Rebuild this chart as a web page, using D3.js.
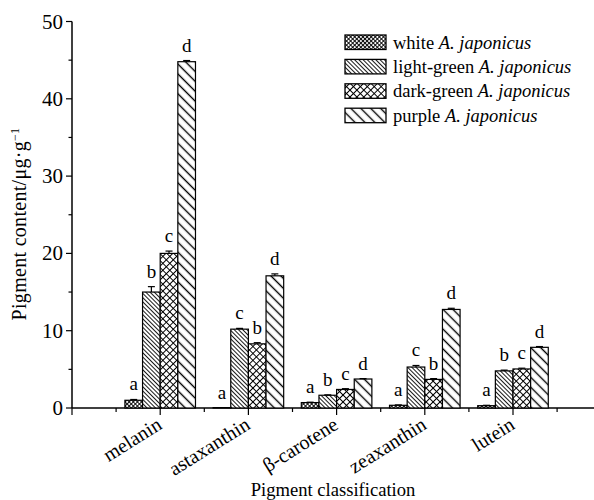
<!DOCTYPE html>
<html><head><meta charset="utf-8">
<script src="https://cdn.jsdelivr.net/npm/d3@7"></script>
<style>body{margin:0;background:#fff}</style>
</head><body>
<svg id="c" width="594" height="500"></svg>
<script>
const categories = ["melanin","astaxanthin","β-carotene","zeaxanthin","lutein"];
const series = ["white","light-green","dark-green","purple"];
const whiteVals = [1.0, 0.05, 0.7, 0.35, 0.3];
const lightGreenVals = [15.0, 10.2, 1.65, 5.3, 4.8];
const darkGreenVals = [20.0, 8.3, 2.4, 3.7, 5.05];
const purpleVals = [44.8, 17.1, 3.75, 12.75, 7.85];
const whiteErr = [0.1, 0.0, 0.05, 0.05, 0.05];
const lightGreenErr = [0.7, 0.1, 0.05, 0.2, 0.1];
const darkGreenErr = [0.3, 0.15, 0.1, 0.1, 0.1];
const purpleErr = [0.15, 0.25, 0.05, 0.15, 0.1];
const whiteSig = ["a","a","a","a","a"];
const lightGreenSig = ["b","c","b","c","b"];
const darkGreenSig = ["c","b","c","b","c"];
const purpleSig = ["d","d","d","d","d"];
const yTicks = [0,10,20,30,40,50];

const vals = [whiteVals, lightGreenVals, darkGreenVals, purpleVals];
const errs = [whiteErr, lightGreenErr, darkGreenErr, purpleErr];
const sigs = [whiteSig, lightGreenSig, darkGreenSig, purpleSig];

const FONT = "Liberation Serif";
const svg = d3.select("#c");
const x = d3.scaleLinear().domain([-1, 5]).range([72, 601.2]);
const y = d3.scaleLinear().domain([0, 50]).range([408, 21.5]);
const step = x(1) - x(0);
const x1 = d3.scaleBand().domain(series).range([-0.4*step, 0.4*step]);

// patterns
const defs = svg.append("defs");
function hatch(id, size, rot, sw, cross) {
  const p = defs.append("pattern").attr("id", id).attr("patternUnits","userSpaceOnUse")
    .attr("width", size).attr("height", size).attr("patternTransform", `rotate(${rot})`);
  p.append("rect").attr("width", size).attr("height", size).attr("fill","#fff");
  p.append("line").attr("x1", size/2).attr("x2", size/2).attr("y1", 0).attr("y2", size)
    .attr("stroke","#000").attr("stroke-width", sw);
  if (cross) p.append("line").attr("y1", size/2).attr("y2", size/2).attr("x1", 0).attr("x2", size)
    .attr("stroke","#000").attr("stroke-width", sw);
}
hatch("p0", 2.9, 45, 0.9, true);
hatch("p1", 3.0, -45, 0.9, false);
hatch("p2", 4.9, 45, 1.0, true);
hatch("p3", 7.0, -45, 1.4, false);

// axes
const g = svg.append("g");
g.append("line").attr("x1", 72).attr("x2", 594).attr("y1", 408).attr("y2", 408).attr("stroke","#000").attr("stroke-width",1.5);
g.append("line").attr("x1", 72).attr("x2", 72).attr("y1", y(50)).attr("y2", 408).attr("stroke","#000").attr("stroke-width",1.5);
const yMinor = d3.range(5, 50, 10);
g.selectAll(".ymaj").data(yTicks).join("line").attr("x1", 66).attr("x2", 72)
  .attr("y1", d=>y(d)).attr("y2", d=>y(d)).attr("stroke","#000").attr("stroke-width",1.2);
g.selectAll(".ymin").data(yMinor).join("line").attr("x1", 68.5).attr("x2", 72)
  .attr("y1", d=>y(d)).attr("y2", d=>y(d)).attr("stroke","#000").attr("stroke-width",1.2);
g.selectAll(".ylab").data(yTicks).join("text").attr("x", 63).attr("y", d=>y(d)+7)
  .attr("text-anchor","end").attr("font-family",FONT).attr("font-size",21).text(d=>d);
const xMaj = d3.range(-1, 5);
const xMin = d3.range(-0.5, 5, 1);
g.selectAll(".xmaj").data(xMaj).join("line").attr("x1", d=>x(d)).attr("x2", d=>x(d))
  .attr("y1", 408).attr("y2", 415).attr("stroke","#000").attr("stroke-width",1.2);
g.selectAll(".xmin").data(xMin).join("line").attr("x1", d=>x(d)).attr("x2", d=>x(d))
  .attr("y1", 408).attr("y2", 412).attr("stroke","#000").attr("stroke-width",1.2);
g.selectAll(".xlab").data(categories).join("text")
  .attr("transform", (d,i)=>`translate(${x(i)+3},${428}) rotate(-32)`)
  .attr("text-anchor","end").attr("font-family",FONT).attr("font-size",20).text(d=>d);

// bars
series.forEach((s, si) => {
  const bg = svg.append("g");
  categories.forEach((c, ci) => {
    const v = vals[si][ci], e = errs[si][ci];
    const bx = x(ci) + x1(s), bw = x1.bandwidth();
    bg.append("rect").attr("x", bx).attr("y", y(v)).attr("width", bw).attr("height", y(0)-y(v))
      .attr("fill", `url(#p${si})`).attr("stroke","#000").attr("stroke-width",1.2);
    const cx = bx + bw/2;
    if (e > 0) {
      bg.append("line").attr("x1", cx).attr("x2", cx).attr("y1", y(v)).attr("y2", y(v+e)).attr("stroke","#000").attr("stroke-width",1.2);
      bg.append("line").attr("x1", cx-3.5).attr("x2", cx+3.5).attr("y1", y(v+e)).attr("y2", y(v+e)).attr("stroke","#000").attr("stroke-width",1.2);
    }
    bg.append("text").attr("x", cx).attr("y", y(v+e) - 9).attr("text-anchor","middle")
      .attr("font-family",FONT).attr("font-size",19).text(sigs[si][ci]);
  });
});

// titles
svg.append("text").attr("x", 333).attr("y", 496).attr("text-anchor","middle")
  .attr("font-family",FONT).attr("font-size",18.6).text("Pigment classification");
const yt = svg.append("text").attr("transform","translate(26,224) rotate(-90)").attr("text-anchor","middle")
  .attr("font-family",FONT).attr("font-size",20).attr("letter-spacing",0.3);
yt.append("tspan").text("Pigment content/μg·g");
yt.append("tspan").attr("dy",-7).attr("font-size",12).text("−1");

// legend
const lg = svg.append("g");
const legNames = ["white","light-green","dark-green","purple"];
legNames.forEach((n, i) => {
  const ly = 35 + i*24.4;
  lg.append("rect").attr("x", 345).attr("y", ly).attr("width", 41).attr("height", 14.5)
    .attr("fill", `url(#p${i})`).attr("stroke","#000").attr("stroke-width",1.3);
  const t = lg.append("text").attr("x", 393).attr("y", ly + 13.5).attr("font-family",FONT).attr("font-size",18.5);
  t.append("tspan").text(n + " ");
  t.append("tspan").attr("font-style","italic").text("A. japonicus");
});
</script>
</body></html>
